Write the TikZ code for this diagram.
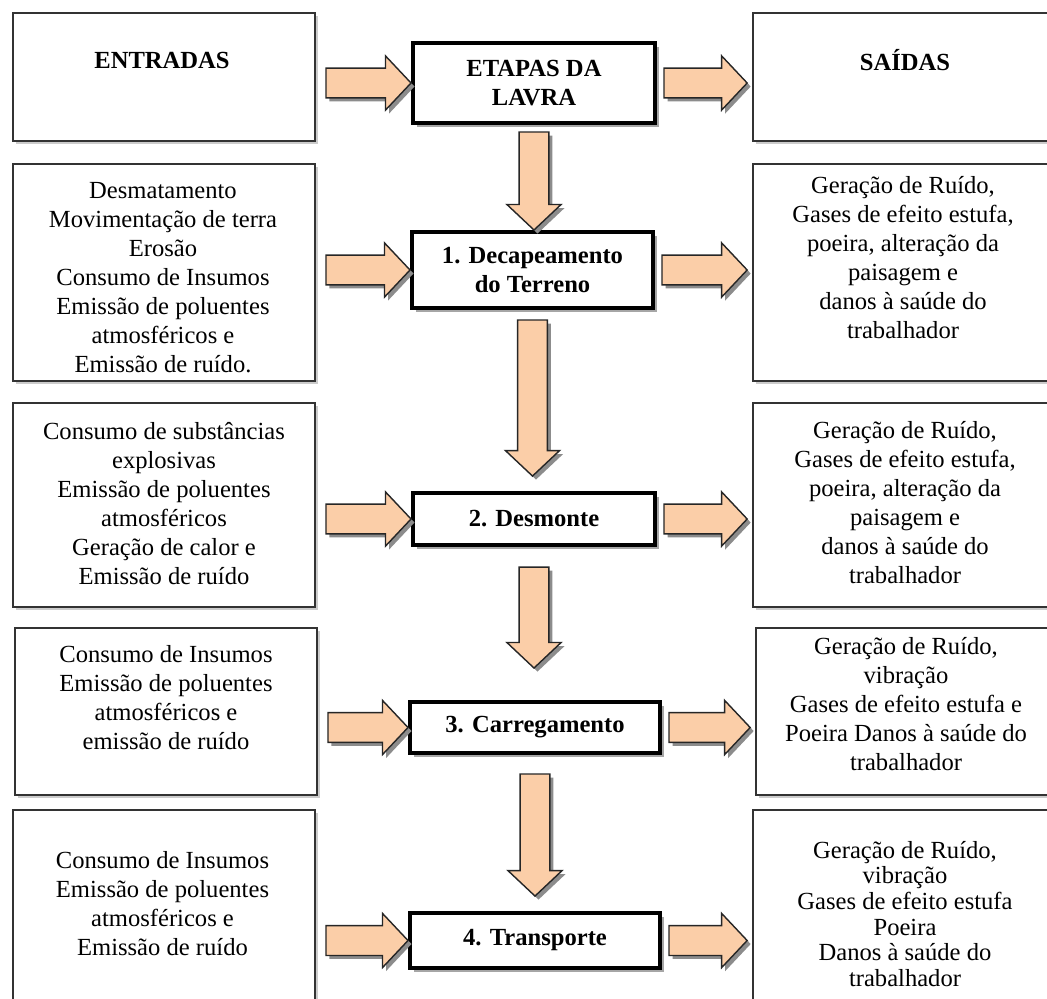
\documentclass[tikz,border=0pt]{standalone}
\usepackage{fontspec}
\setmainfont{Liberation Serif}
\usetikzlibrary{calc,shadows}

\definecolor{peach}{RGB}{251,206,168}
\def\sw{8.5pt}
\def\hw{15.4pt}
\def\hl{14.5pt}

\begin{document}
\begin{tikzpicture}[
    x=0.02cm, y=-0.02cm,
    every node/.style={font=\fontsize{14pt}{16.5pt}\selectfont},
    sidebox/.style={draw=black!80, line width=1.1pt, fill=white, minimum width=6.04cm,
      drop shadow={shadow xshift=1.5pt, shadow yshift=-1.5pt, fill=black!20, opacity=1}},
    sidetext/.style={align=center, inner sep=0pt},
    stagebox/.style={draw=black, line width=2.3pt, fill=white, align=center,
      font=\fontsize{14pt}{16pt}\selectfont\bfseries,
      drop shadow={shadow xshift=2.5pt, shadow yshift=-2.5pt, fill=black!35, opacity=1}},
    fat/.style={fill=peach, draw=black!85, line width=0.8pt,
      drop shadow={shadow xshift=2pt, shadow yshift=-2pt, fill=black!45, opacity=1}},
    fatin/.style 2 args={fat, to path={let \p1=(\tikztostart.east), \p2=(\tikztotarget.west) in
      (\x1+#1,\y2+\sw) -- (\x2-#2-\hl,\y2+\sw) -- (\x2-#2-\hl,\y2+\hw) -- (\x2-#2,\y2)
      -- (\x2-#2-\hl,\y2-\hw) -- (\x2-#2-\hl,\y2-\sw) -- (\x1+#1,\y2-\sw) -- cycle}},
    fatout/.style 2 args={fat, to path={let \p1=(\tikztostart.east), \p2=(\tikztotarget.west) in
      (\x1+#1,\y1+\sw) -- (\x2-#2-\hl,\y1+\sw) -- (\x2-#2-\hl,\y1+\hw) -- (\x2-#2,\y1)
      -- (\x2-#2-\hl,\y1-\hw) -- (\x2-#2-\hl,\y1-\sw) -- (\x1+#1,\y1-\sw) -- cycle}},
    fatdown/.style 2 args={fat, to path={let \p1=(\tikztostart.south), \p2=(\tikztotarget.north) in
      (\x1-\sw,\y1-#1) -- (\x1-\sw,\y2+#2+\hl) -- (\x1-\hw,\y2+#2+\hl) -- (\x1,\y2+#2)
      -- (\x1+\hw,\y2+#2+\hl) -- (\x1+\sw,\y2+#2+\hl) -- (\x1+\sw,\y1-#1) -- cycle}}
]
  \useasboundingbox (0,0) rectangle (1047,998);
  \fill[white] (0,0) rectangle (1047,998);
  \clip (0,0) rectangle (1047,998);

  % stages
  \node[stagebox, minimum width=4.84cm, minimum height=1.6cm] (d0) at (534,83) {ETAPAS DA\\LAVRA};
  \node[stagebox, minimum width=4.82cm, minimum height=1.52cm] (d1) at (532.5,270) {1. Decapeamento\\do Terreno};
  \node[stagebox, minimum width=4.84cm, minimum height=1.04cm] (d2) at (534,519) {2. Desmonte};
  \node[stagebox, minimum width=5cm, minimum height=1.02cm] (d3) at (535,727.5) {3. Carregamento};
  \node[stagebox, minimum width=5cm, minimum height=1.1cm] (d4) at (535,940.5) {4. Transporte};

  % inputs
  \node[sidebox, minimum height=2.56cm] (in0) at (164,77) {};
  \node[sidebox, minimum height=4.34cm] (in1) at (164,272.5) {};
  \node[sidebox, minimum height=4.08cm] (in2) at (164,505) {};
  \node[sidebox, minimum height=3.34cm] (in3) at (166,711.5) {};
  \node[sidebox, minimum height=3.9cm] (in4) at (164,907.5) {};

  % outputs
  \node[sidebox, minimum height=2.56cm] (out0) at (904,77) {};
  \node[sidebox, minimum height=4.34cm] (out1) at (904,272.5) {};
  \node[sidebox, minimum height=4.08cm] (out2) at (904,505) {};
  \node[sidebox, minimum height=3.34cm] (out3) at (907,711.5) {};
  \node[sidebox, minimum height=3.9cm] (out4) at (904,907.5) {};

  % texts
  \node[sidetext] (tin0) at (162,60) {\textbf{ENTRADAS}};
  \node[sidetext] (tout0) at (905,60) {\textbf{SAÍDAS}};
  \node[sidetext] (tin1) at (163,278) {Desmatamento\\Movimentação de terra\\Erosão\\Consumo de Insumos\\Emissão de poluentes\\atmosféricos e\\Emissão de ruído.};
  \node[sidetext] (tout1) at (903,258) {Geração de Ruído,\\Gases de efeito estufa,\\poeira, alteração da\\paisagem e\\danos à saúde do\\trabalhador};
  \node[sidetext] (tin2) at (164,504) {Consumo de substâncias\\explosivas\\Emissão de poluentes\\atmosféricos\\Geração de calor e\\Emissão de ruído};
  \node[sidetext] (tout2) at (905,503) {Geração de Ruído,\\Gases de efeito estufa,\\poeira, alteração da\\paisagem e\\danos à saúde do\\trabalhador};
  \node[sidetext] (tin3) at (166,697.5) {Consumo de Insumos\\Emissão de poluentes\\atmosféricos e\\emissão de ruído};
  \node[sidetext] (tout3) at (906,704.5) {Geração de Ruído,\\vibração\\Gases de efeito estufa e\\Poeira Danos à saúde do\\trabalhador};
  \node[sidetext] (tin4) at (162.5,903.5) {Consumo de Insumos\\Emissão de poluentes\\atmosféricos e\\Emissão de ruído};
  \node[sidetext, font=\fontsize{14pt}{14.6pt}\selectfont] (tout4) at (905,914) {Geração de Ruído,\\vibração\\Gases de efeito estufa\\Poeira\\Danos à saúde do\\trabalhador};

  % block arrows
  \foreach \i in {0,...,4} {
    \draw[fatin={5.7pt}{0pt}] (in\i) to (d\i);
    \draw[fatout={4pt}{2.8pt}] (d\i) to (out\i);
  }
  \draw[fatdown={4pt}{0pt}] (d0) to (d1);
  \draw[fatdown={5.7pt}{8.5pt}] (d1) to (d2);
  \draw[fatdown={11.4pt}{18.2pt}] (d2) to (d3);
  \draw[fatdown={10.8pt}{8.5pt}] (d3) to (d4);
\end{tikzpicture}
\end{document}
